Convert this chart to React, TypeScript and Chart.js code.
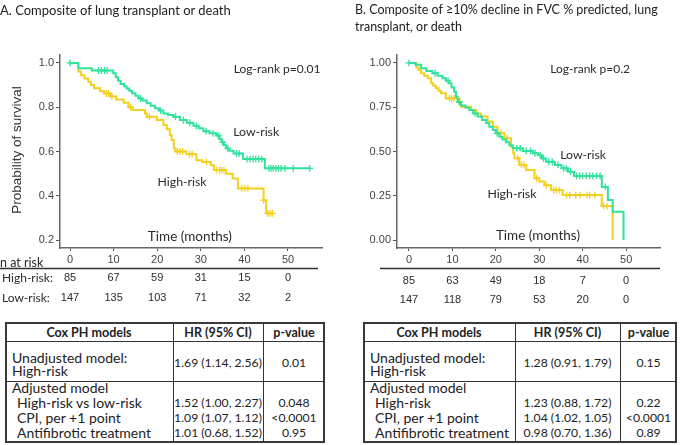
import React, { useEffect, useRef } from "react";
import { Chart, registerables } from "chart.js";

Chart.register(...registerables);

const GREEN = "#2FE39C";
const YELLOW = "#F2D01E";
const ARIAL = "'Liberation Sans', Arial, sans-serif";
const CALIBRI = "Lato, 'Noto Sans', sans-serif";
const TEXT = "#2b2b2b";

// ---------------- Panel A data ----------------
const aXTicks = [0, 10, 20, 30, 40, 50];
const aYTicks = [0.2, 0.4, 0.6, 0.8, 1.0];
const aLowTimes = [1.9, 5.0, 9.9, 10.5, 11.0, 11.6, 12.4, 13.0, 13.6, 14.2, 15.0, 15.7, 16.6, 17.6, 18.5, 19.5, 20.4, 21.4, 22.5, 23.7, 25.2, 26.8, 28.3, 29.5, 30.6, 32.0, 33.6, 34.3, 34.8, 35.3, 35.8, 36.6, 37.5, 39.7, 44.7];
const aLowSurv = [0.976, 0.966, 0.953, 0.935, 0.92, 0.905, 0.895, 0.885, 0.875, 0.863, 0.852, 0.84, 0.83, 0.818, 0.807, 0.795, 0.785, 0.772, 0.765, 0.757, 0.742, 0.73, 0.716, 0.705, 0.692, 0.682, 0.672, 0.655, 0.642, 0.628, 0.614, 0.603, 0.591, 0.566, 0.524];
const aLowCensor = [0, 6.5, 7.2, 7.9, 8.5, 16.2, 20.8, 24.2, 26.0, 27.5, 29.0, 31.2, 32.8, 34.0, 35.0, 36.2, 38.2, 38.8, 40.6, 41.3, 42.0, 42.6, 43.3, 44.0, 45.6, 46.1, 46.6, 47.2, 47.8, 48.4, 49.3, 51.2, 55.0];
const aLowLast = 55.0;
const aHighTimes = [1.9, 2.5, 3.3, 4.2, 4.8, 5.5, 6.9, 7.8, 9.2, 10.6, 12.3, 13.4, 14.3, 17.2, 17.6, 19.9, 21.4, 22.2, 22.9, 23.3, 23.8, 24.2, 26.7, 29.0, 30.3, 32.3, 33.0, 35.8, 37.3, 38.5, 44.4, 45.0];
const aHighSurv = [0.962, 0.945, 0.93, 0.915, 0.9, 0.886, 0.872, 0.862, 0.849, 0.835, 0.82, 0.8, 0.787, 0.772, 0.757, 0.742, 0.72, 0.7, 0.675, 0.652, 0.614, 0.6, 0.588, 0.561, 0.553, 0.538, 0.516, 0.5, 0.478, 0.433, 0.38, 0.32];
const aHighCensor = [8.3, 8.8, 9.6, 13.9, 18.2, 24.6, 25.2, 25.8, 27.4, 28.0, 31.3, 33.6, 34.3, 34.8, 35.3, 39.4, 40.1, 40.8, 44.4, 45.4, 45.9, 46.4];
const aHighLast = 46.4;
const aRiskHigh = [85, 67, 59, 31, 15, 0];
const aRiskLow = [147, 135, 103, 71, 32, 2];

// ---------------- Panel B data ----------------
const bXTicks = [0, 10, 20, 30, 40, 50];
const bYTicks = [0, 0.25, 0.5, 0.75, 1.0];
const bLowTimes = [1.5, 2.8, 4.0, 5.4, 6.6, 7.7, 8.5, 9.2, 9.8, 10.4, 10.8, 11.2, 12.0, 13.0, 13.9, 14.8, 15.8, 16.8, 17.8, 18.5, 19.3, 20.0, 20.8, 21.5, 22.3, 23.1, 23.9, 26.2, 28.5, 29.7, 30.6, 31.6, 33.6, 35.1, 36.6, 38.0, 44.4, 45.8, 46.9, 49.4];
const bLowSurv = [0.99, 0.97, 0.955, 0.942, 0.928, 0.914, 0.9, 0.885, 0.862, 0.838, 0.81, 0.78, 0.76, 0.747, 0.734, 0.715, 0.697, 0.678, 0.659, 0.64, 0.621, 0.603, 0.584, 0.568, 0.552, 0.535, 0.518, 0.503, 0.49, 0.48, 0.46, 0.442, 0.424, 0.405, 0.386, 0.362, 0.3, 0.226, 0.16, 0];
const bLowCensor = [0, 6.0, 9.0, 11.6, 15.2, 20.3, 24.8, 25.6, 27.0, 28.0, 29.0, 30.2, 31.0, 32.2, 33.0, 34.3, 35.6, 36.2, 37.2, 38.6, 39.3, 40.0, 40.8, 41.6, 42.3, 43.2, 44.0, 45.2];
const bLowLast = 49.4;
const bHighTimes = [1.7, 2.2, 2.8, 3.5, 4.3, 5.1, 5.6, 6.2, 6.8, 7.4, 8.5, 11.6, 12.0, 14.3, 15.5, 16.6, 18.1, 19.3, 20.4, 22.0, 23.5, 24.0, 24.3, 25.4, 27.0, 28.9, 30.0, 31.2, 32.7, 35.4, 44.4, 46.9];
const bHighSurv = [0.975, 0.96, 0.942, 0.928, 0.914, 0.885, 0.871, 0.857, 0.843, 0.829, 0.8, 0.77, 0.753, 0.734, 0.715, 0.697, 0.669, 0.64, 0.603, 0.575, 0.527, 0.49, 0.462, 0.424, 0.395, 0.349, 0.33, 0.31, 0.282, 0.254, 0.192, 0];
const bHighCensor = [9.3, 9.8, 10.4, 21.2, 22.6, 25.0, 25.9, 26.5, 29.4, 31.6, 33.3, 33.9, 34.6, 36.3, 37.0, 38.4, 39.4, 41.0, 41.6, 42.8, 44.8, 45.6];
const bHighLast = 46.9;
const bRiskHigh = [85, 63, 49, 18, 7, 0];
const bRiskLow = [147, 118, 79, 53, 20, 0];

// ---------------- Tables ----------------
const coxHeaders = ["Cox PH models", "HR (95% CI)", "p-value"];
const unadjLabel = ["Unadjusted model:", "High-risk"];
const adjLabel = "Adjusted model";
const aUnadjHR = "1.69 (1.14, 2.56)";
const aUnadjP = "0.01";
const aAdjRows = ["High-risk vs low-risk", "CPI, per +1 point", "Antifibrotic treatment"];
const aAdjHR = ["1.52 (1.00, 2.27)", "1.09 (1.07, 1.12)", "1.01 (0.68, 1.52)"];
const aAdjP = ["0.048", "<0.0001", "0.95"];
const bUnadjHR = "1.28 (0.91, 1.79)";
const bUnadjP = "0.15";
const bAdjRows = ["High-risk", "CPI, per +1 point", "Antifibrotic treatment"];
const bAdjHR = ["1.23 (0.88, 1.72)", "1.04 (1.02, 1.05)", "0.98 (0.70, 1.36)"];
const bAdjP = ["0.22", "<0.0001", "0.89"];

const CANVAS_H = 310;

function survAt(times: number[], surv: number[], t: number) {
  let s = 1;
  for (let i = 0; i < times.length; i++) if (times[i] <= t) s = surv[i];
  return s;
}
function kmLine(times: number[], surv: number[], last: number) {
  const pts = [{ x: 0, y: 1 }];
  times.forEach((t, i) => pts.push({ x: t, y: surv[i] }));
  if (last > times[times.length - 1]) pts.push({ x: last, y: surv[surv.length - 1] });
  return pts;
}
function censorPts(times: number[], surv: number[], cens: number[]) {
  return cens.map((t) => ({ x: t, y: survAt(times, surv, t) }));
}

type Panel = {
  width: number;
  yAxisW: number;
  rightPad: number;
  xMin: number; xMax: number; yMin: number; yMax: number;
  xTicks: number[]; yTicks: number[]; yDec: number;
  low: [number[], number[], number[], number];
  high: [number[], number[], number[], number];
  labels: { text: string; x: number; y: number; size: number }[];
  yTitle: boolean;
  riskHeader: boolean;
  riskLine: [number, number];
  riskRows: { label: string; values: number[]; y: number }[];
};

const panelA: Panel = {
  width: 340, yAxisW: 60, rightPad: 18,
  xMin: -2.3, xMax: 57.8, yMin: 0.164, yMax: 1.036,
  xTicks: aXTicks, yTicks: aYTicks, yDec: 1,
  low: [aLowTimes, aLowSurv, aLowCensor, aLowLast],
  high: [aHighTimes, aHighSurv, aHighCensor, aHighLast],
  labels: [
    { text: "Log-rank p=0.01", x: 47.5, y: 0.973, size: 12 },
    { text: "Low-risk", x: 42.7, y: 0.688, size: 12.3 },
    { text: "High-risk", x: 25.7, y: 0.46, size: 12.3 },
    { text: "Time (months)", x: 27.5, y: 0.217, size: 13.5 },
  ],
  yTitle: true,
  riskHeader: true,
  riskLine: [0, 318],
  riskRows: [
    { label: "High-risk:", values: aRiskHigh, y: 278 },
    { label: "Low-risk:", values: aRiskLow, y: 298 },
  ],
};

const panelB: Panel = {
  width: 345, yAxisW: 57, rightPad: 25,
  xMin: -2.76, xMax: 57.8, yMin: -0.045, yMax: 1.045,
  xTicks: bXTicks, yTicks: bYTicks, yDec: 2,
  low: [bLowTimes, bLowSurv, bLowCensor, bLowLast],
  high: [bHighTimes, bHighSurv, bHighCensor, bHighLast],
  labels: [
    { text: "Log-rank p=0.2", x: 41.7, y: 0.966, size: 12 },
    { text: "Low-risk", x: 40.1, y: 0.48, size: 12.3 },
    { text: "High-risk", x: 23.7, y: 0.26, size: 12.3 },
    { text: "Time (months)", x: 29.7, y: 0.023, size: 13.5 },
  ],
  yTitle: false,
  riskHeader: false,
  riskLine: [40, 320],
  riskRows: [
    { label: "", values: bRiskHigh, y: 281 },
    { label: "", values: bRiskLow, y: 300 },
  ],
};

function makeOverlay(p: Panel) {
  return {
    id: "overlay",
    afterDraw(chart: any) {
      const ctx = chart.ctx as CanvasRenderingContext2D;
      const xs = chart.scales.x;
      const ys = chart.scales.y;
      ctx.save();
      ctx.fillStyle = TEXT;
      ctx.textBaseline = "middle";
      ctx.textAlign = "center";
      p.labels.forEach((l) => {
        ctx.font = `${l.size}px ${CALIBRI}`;
        ctx.fillText(l.text, xs.getPixelForValue(l.x), ys.getPixelForValue(l.y));
      });
      if (p.yTitle) {
        ctx.save();
        ctx.translate(17, 150);
        ctx.rotate(-Math.PI / 2);
        ctx.font = `13.5px ${ARIAL}`;
        ctx.fillStyle = "#333";
        ctx.fillText("Probability of survival", 0, 0);
        ctx.restore();
      }
      // risk table
      if (p.riskHeader) {
        ctx.textAlign = "left";
        ctx.font = `12.5px ${CALIBRI}`;
        ctx.fillText("n at risk", 0, 263);
      }
      ctx.strokeStyle = "#333";
      ctx.lineWidth = 1.5;
      ctx.beginPath();
      ctx.moveTo(p.riskLine[0], 268.5);
      ctx.lineTo(p.riskLine[1], 268.5);
      ctx.stroke();
      p.riskRows.forEach((r) => {
        if (r.label) {
          ctx.textAlign = "left";
          ctx.font = `12px ${CALIBRI}`;
          ctx.fillText(r.label, 2, r.y);
        }
        ctx.textAlign = "center";
        ctx.font = `11px ${ARIAL}`;
        r.values.forEach((v, i) => {
          ctx.fillText(String(v), xs.getPixelForValue(p.xTicks[i]), r.y);
        });
      });
      ctx.restore();
    },
  };
}

function buildConfig(p: Panel): any {
  const [lt, ls, lc, ll] = p.low;
  const [ht, hs, hc, hl] = p.high;
  const lineBase = {
    type: "line",
    stepped: true,
    borderWidth: 2,
    pointRadius: 0,
    fill: false,
    tension: 0,
  };
  const censBase = {
    type: "line",
    showLine: false,
    pointStyle: "cross",
    pointRadius: 3.4,
    pointBorderWidth: 1.3,
  };
  const XH = 20;
  return {
    type: "line",
    data: {
      datasets: [
        { ...censBase, data: censorPts(lt, ls, lc), pointBorderColor: GREEN, borderColor: GREEN, order: 0 },
        { ...lineBase, data: kmLine(lt, ls, ll), borderColor: GREEN, order: 1 },
        { ...censBase, data: censorPts(ht, hs, hc), pointBorderColor: YELLOW, borderColor: YELLOW, order: 2 },
        { ...lineBase, data: kmLine(ht, hs, hl), borderColor: YELLOW, order: 3 },
      ],
    },
    options: {
      animation: false,
      responsive: false,
      devicePixelRatio: 1,
      events: [],
      layout: { padding: { left: 0, top: 55, right: p.rightPad, bottom: CANVAS_H - 248 - XH } },
      plugins: { legend: { display: false }, tooltip: { enabled: false } },
      scales: {
        x: {
          type: "linear",
          min: p.xMin,
          max: p.xMax,
          afterFit: (s: any) => { s.height = XH; },
          afterBuildTicks: (s: any) => { s.ticks = p.xTicks.map((v) => ({ value: v })); },
          grid: { drawOnChartArea: false, drawTicks: true, tickLength: 3, color: "#555", lineWidth: 1 },
          border: { color: "#666", width: 1.5 },
          ticks: { font: { family: ARIAL, size: 11 }, color: "#444", padding: 2, maxRotation: 0, autoSkip: false },
        },
        y: {
          type: "linear",
          min: p.yMin,
          max: p.yMax,
          afterFit: (s: any) => { s.width = p.yAxisW; },
          afterBuildTicks: (s: any) => { s.ticks = p.yTicks.map((v) => ({ value: v })); },
          grid: { drawOnChartArea: false, drawTicks: true, tickLength: 4, color: "#555", lineWidth: 1 },
          border: { color: "#666", width: 1.5 },
          ticks: {
            font: { family: ARIAL, size: 11 },
            color: "#444",
            padding: 2,
            autoSkip: false,
            callback: (v: any) => Number(v).toFixed(p.yDec),
          },
        },
      },
    },
    plugins: [makeOverlay(p)],
  };
}

function KMChart({ panel, left }: { panel: Panel; left: number }) {
  const ref = useRef<HTMLCanvasElement>(null);
  useEffect(() => {
    const chart = new Chart(ref.current as HTMLCanvasElement, buildConfig(panel));
    return () => chart.destroy();
  }, []);
  return (
    <canvas
      ref={ref}
      width={panel.width}
      height={CANVAS_H}
      style={{ position: "absolute", left, top: 0, width: panel.width, height: CANVAS_H }}
    />
  );
}

function T({ x, y, children, center, bold, size = 14 }: any) {
  return (
    <div
      style={{
        position: "absolute",
        left: x,
        top: y,
        transform: center ? "translate(-50%,-50%)" : "translateY(-50%)",
        font: `${bold ? "bold " : ""}${size}px ${CALIBRI}`,
        lineHeight: 1,
        whiteSpace: "nowrap",
        color: "#222",
      }}
    >
      {children}
    </div>
  );
}

function CoxTable({ cols, unadjHR, unadjP, rows, hr, pv }: any) {
  const [x0, x1, x2, x3] = cols;
  const top = 322, h1 = 340.5, h2 = 381, bot = 443;
  const c1 = (x0 + x1) / 2, c2 = (x1 + x2) / 2, c3 = (x2 + x3) / 2;
  const rowY = [403, 418, 433];
  const NUM = 12.2;
  const line = (l: number, t: number, w: number, h: number, key: string) => (
    <div key={key} style={{ position: "absolute", left: l, top: t, width: w, height: h, background: "#333" }} />
  );
  return (
    <>
      <div style={{ position: "absolute", left: x0, top, width: x3 - x0, height: bot - top, border: "2px solid #3a3a3a", boxSizing: "border-box" }} />
      {line(x0, h1, x3 - x0, 1, "h1")}
      {line(x0, h2, x3 - x0, 1, "h2")}
      {line(x1, top, 1, bot - top, "v1")}
      {line(x2, top, 1, bot - top, "v2")}
      <T x={c1} y={333} center bold size={12.5}>{coxHeaders[0]}</T>
      <T x={c2} y={333} center bold size={12.5}>{coxHeaders[1]}</T>
      <T x={c3} y={333} center bold size={12.5}>{coxHeaders[2]}</T>
      <T x={x0 + 7} y={358}>{unadjLabel[0]}</T>
      <T x={x0 + 7} y={371}>{unadjLabel[1]}</T>
      <T x={c2} y={363} center size={NUM}>{unadjHR}</T>
      <T x={c3} y={363} center size={NUM}>{unadjP}</T>
      <T x={x0 + 7} y={388}>{adjLabel}</T>
      {rows.map((r: string, i: number) => (
        <React.Fragment key={i}>
          <T x={x0 + 12} y={rowY[i]}>{r}</T>
          <T x={c2} y={rowY[i]} center size={NUM}>{hr[i]}</T>
          <T x={c3} y={rowY[i]} center size={NUM}>{pv[i]}</T>
        </React.Fragment>
      ))}
    </>
  );
}

export default function App() {
  return (
    <div style={{ position: "absolute", left: 0, top: 0, width: 685, height: 445, background: "#fff", overflow: "hidden" }}>
      <KMChart panel={panelA} left={0} />
      <KMChart panel={panelB} left={340} />
      <T x={0} y={10} size={13}>A. Composite of lung transplant or death</T>
      <T x={355} y={10} size={12.5}>B. Composite of ≥10% decline in FVC % predicted, lung</T>
      <T x={355} y={27} size={12.5}>transplant, or death</T>
      <CoxTable cols={[5, 173, 263, 325]} unadjHR={aUnadjHR} unadjP={aUnadjP} rows={aAdjRows} hr={aAdjHR} pv={aAdjP} />
      <CoxTable cols={[363, 515, 620, 677]} unadjHR={bUnadjHR} unadjP={bUnadjP} rows={bAdjRows} hr={bAdjHR} pv={bAdjP} />
    </div>
  );
}
